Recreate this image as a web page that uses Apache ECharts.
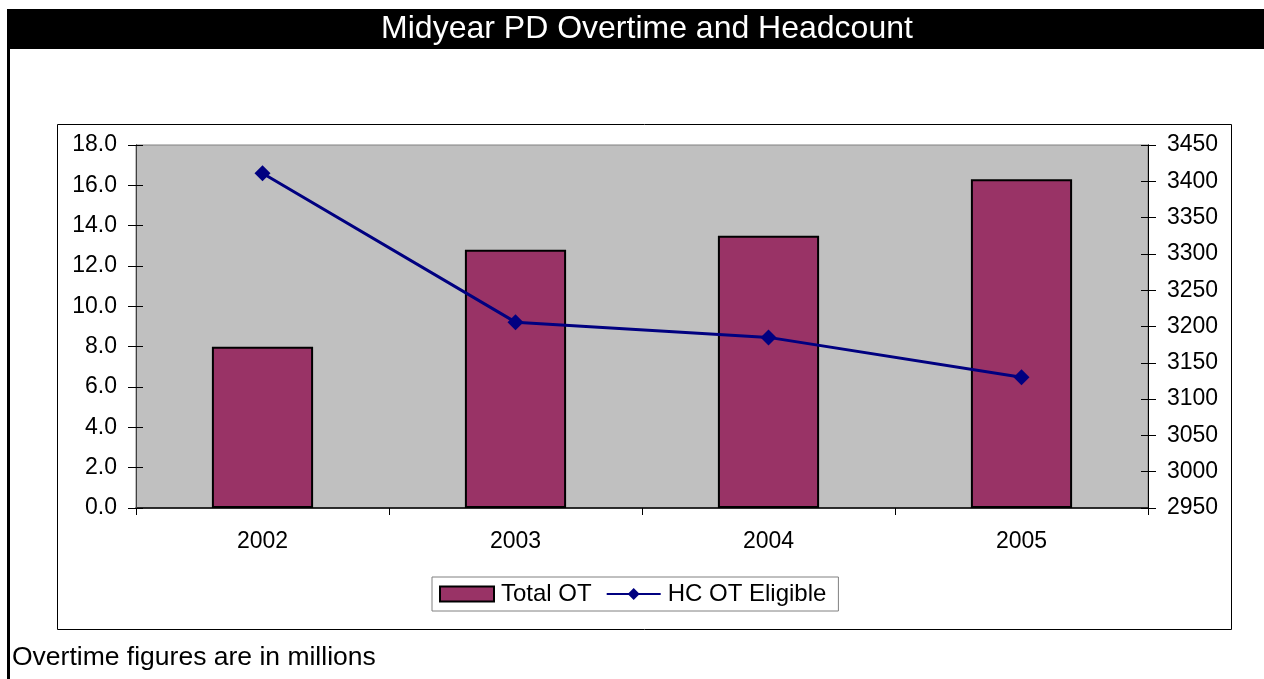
<!DOCTYPE html>
<html>
<head>
<meta charset="utf-8">
<script src="https://cdn.jsdelivr.net/npm/echarts@6/dist/echarts.min.js"></script>
<style>
  html, body { margin: 0; padding: 0; background: #fff; }
  #chart { width: 1264px; height: 679px; }
</style>
</head>
<body>
<div id="chart"></div>
<script>
const years = ['2002', '2003', '2004', '2005'];
const totalOT = [8.0, 12.8, 13.5, 16.3];
const hcEligible = [3411, 3206, 3185, 3130];

const font = 'Liberation Sans, Arial, sans-serif';
const chart = echarts.init(document.getElementById('chart'));

const option = {
  animation: false,
  textStyle: { fontFamily: font, color: '#000' },
  graphic: [
    // page frame, title strip, chart box, footnote
    { type: 'rect', shape: { x: 7, y: 9, width: 1257, height: 40 }, style: { fill: '#000' }, z: 0 },
    { type: 'rect', shape: { x: 7, y: 9, width: 3, height: 670 }, style: { fill: '#000' }, z: 0 },
    { type: 'rect', shape: { x: 57.5, y: 124.5, width: 1174, height: 505 }, style: { fill: 'none', stroke: '#000', lineWidth: 1 }, z: 0 },
    {
      type: 'text', x: 647, y: 29,
      style: { text: 'Midyear PD Overtime and Headcount', fill: '#fff', font: '32px ' + font, textAlign: 'center', textVerticalAlign: 'middle' }
    },
    {
      type: 'text', x: 12, y: 658,
      style: { text: 'Overtime figures are in millions', fill: '#000', font: '26.5px ' + font, textAlign: 'left', textVerticalAlign: 'middle' }
    }
  ],
  legend: {
    left: 432, top: 577,
    padding: [5, 12, 5, 7],
    itemGap: 14,
    itemWidth: 54,
    itemHeight: 15,
    backgroundColor: '#fff',
    borderColor: '#808080',
    borderWidth: 1,
    textStyle: { fontSize: 24, fontFamily: font, color: '#000', padding: [0, 0, 0, 2] },
    data: [
      { name: 'Total OT', icon: 'rect' },
      { name: 'HC OT Eligible' }
    ]
  },
  grid: {
    left: 136, right: 116, top: 145, bottom: 171,
    show: true,
    backgroundColor: '#C0C0C0',
    borderColor: '#808080',
    borderWidth: 1
  },
  xAxis: {
    type: 'category',
    data: years,
    axisLine: { lineStyle: { color: '#000', width: 1.5 } },
    axisTick: { show: true, length: 7, lineStyle: { color: '#000' } },
    axisLabel: { fontSize: 23, color: '#000', margin: 22 },
    splitLine: { show: false }
  },
  yAxis: [
    {
      type: 'value', position: 'left', min: 0, max: 18, interval: 2,
      axisLine: { show: true, lineStyle: { color: '#404040' } },
      axisTick: { show: true, length: 8, lineStyle: { color: '#000' } },
      axisLabel: { fontSize: 23, color: '#000', margin: 19, formatter: v => v.toFixed(1) },
      splitLine: { show: false }
    },
    {
      type: 'value', position: 'right', min: 2950, max: 3450, interval: 50,
      axisLine: { show: true, lineStyle: { color: '#000' } },
      axisTick: { show: true, length: 8, lineStyle: { color: '#000' } },
      axisLabel: { fontSize: 23, color: '#000', margin: 19, formatter: v => String(v) },
      splitLine: { show: false }
    },
    // same scales again, only to draw the inner half of each tick
    {
      type: 'value', position: 'left', offset: 0, min: 0, max: 18, interval: 2, z: 10,
      axisLine: { show: true, onZero: false, lineStyle: { color: '#404040' } },
      axisTick: { show: true, inside: true, length: 7, lineStyle: { color: '#000' } },
      axisLabel: { show: false },
      splitLine: { show: false }
    },
    {
      type: 'value', position: 'right', offset: 0, min: 2950, max: 3450, interval: 50, z: 10,
      axisLine: { show: true, onZero: false, lineStyle: { color: '#000' } },
      axisTick: { show: true, inside: true, length: 7, lineStyle: { color: '#000' } },
      axisLabel: { show: false },
      splitLine: { show: false }
    }
  ],
  series: [
    {
      name: 'Total OT',
      type: 'bar',
      data: totalOT,
      barWidth: '40%',
      itemStyle: { color: '#993366', borderColor: '#000', borderWidth: 2 }
    },
    {
      name: 'HC OT Eligible',
      type: 'line',
      yAxisIndex: 1,
      data: hcEligible,
      symbol: 'diamond',
      symbolSize: 16,
      lineStyle: { color: '#000080', width: 3 },
      itemStyle: { color: '#000080' },
      z: 5
    },
    { type: 'line', yAxisIndex: 2, data: [] },
    { type: 'line', yAxisIndex: 3, data: [] }
  ]
};

chart.setOption(option);
</script>
</body>
</html>
